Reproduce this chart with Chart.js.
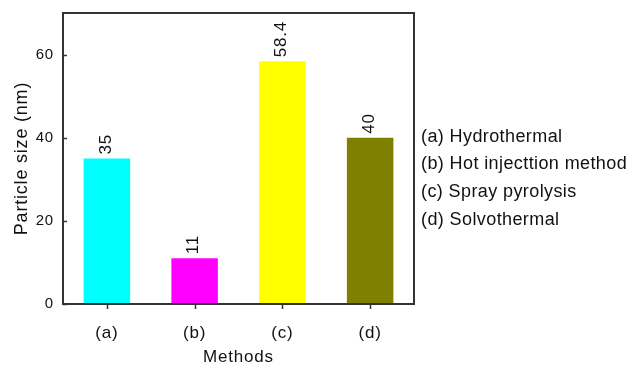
<!DOCTYPE html>
<html>
<head>
<meta charset="utf-8">
<script src="https://cdn.jsdelivr.net/npm/chart.js@4.4.1/dist/chart.umd.min.js"></script>
<style>
  html, body { margin: 0; padding: 0; background: #fff; }
  #wrap { width: 633px; height: 365px; position: relative; }
</style>
</head>
<body>
<div id="wrap"><canvas id="chart" width="633" height="365"></canvas></div>
<script>
// Particle size obtained by each synthesis method
const categories = ['(a)', '(b)', '(c)', '(d)'];
const sizes = [35, 11, 58.4, 40];
const valueLabels = ['35', '11', '58.4', '40'];
const barColors = ['#00FFFF', '#FF00FF', '#FFFF00', '#808000'];
const methodNames = ['(a) Hydrothermal', '(b) Hot injecttion method', '(c) Spray pyrolysis', '(d) Solvothermal'];
const yTicks = [0, 20, 40, 60];

const FONT = '"Liberation Sans", Arial, sans-serif';
const INK = '#111';
const FRAME = '#333';

// Slightly open letter spacing for every text on the canvas
const spacing = {
  id: 'spacing',
  beforeDraw(chart) { chart.ctx.letterSpacing = '0.8px'; }
};

// Frame, tick marks, value labels and the method key
const decorations = {
  id: 'decorations',
  afterDatasetsDraw(chart) {
    const { ctx, chartArea: a, scales } = chart;
    ctx.save();
    // frame
    ctx.strokeStyle = FRAME;
    ctx.lineWidth = 2;
    ctx.strokeRect(a.left, a.top, a.right - a.left, a.bottom - a.top);
    // y ticks (inward)
    ctx.lineWidth = 1.5;
    yTicks.forEach(v => {
      const y = Math.round(scales.y.getPixelForValue(v)) + 0.5;
      ctx.beginPath();
      ctx.moveTo(a.left, y);
      ctx.lineTo(a.left + 4, y);
      ctx.stroke();
    });
    // x ticks (outward)
    categories.forEach((c, i) => {
      const x = Math.round(scales.x.getPixelForValue(i)) + 0.5;
      ctx.beginPath();
      ctx.moveTo(x, a.bottom);
      ctx.lineTo(x, a.bottom + 5);
      ctx.stroke();
    });
    // value labels, rotated, above each bar
    const meta = chart.getDatasetMeta(0);
    ctx.fillStyle = INK;
    ctx.letterSpacing = '0.8px';
    ctx.font = '17px ' + FONT;
    ctx.textAlign = 'left';
    ctx.textBaseline = 'middle';
    meta.data.forEach((bar, i) => {
      ctx.save();
      ctx.translate(bar.x - 1, bar.y - 4);
      ctx.rotate(-Math.PI / 2);
      ctx.fillText(valueLabels[i], 0, 0);
      ctx.restore();
    });
    // method key on the right
    ctx.letterSpacing = '0.4px';
    ctx.font = '18px ' + FONT;
    ctx.textBaseline = 'middle';
    const keyX = a.right + 7;
    const keyY = [137, 164, 192, 220];
    methodNames.forEach((t, i) => ctx.fillText(t, keyX, keyY[i]));
    ctx.restore();
  }
};

new Chart(document.getElementById('chart'), {
  type: 'bar',
  data: {
    labels: categories,
    datasets: [{
      data: sizes,
      backgroundColor: barColors,
      borderWidth: 0,
      barPercentage: 0.53,
      categoryPercentage: 1
    }]
  },
  options: {
    responsive: false,
    animation: false,
    devicePixelRatio: 1,
    layout: { padding: { top: 13, right: 219, bottom: 0, left: 0 } },
    plugins: { legend: { display: false }, tooltip: { enabled: false } },
    scales: {
      x: {
        grid: { display: false },
        border: { display: false },
        ticks: { color: INK, font: { family: FONT, size: 17 }, padding: 11, maxRotation: 0 },
        title: { display: true, text: 'Methods', color: INK, font: { family: FONT, size: 17 }, padding: { top: 0, bottom: -3 } },
        afterFit(s) { s.height = 61; }
      },
      y: {
        min: 0,
        max: 70,
        grid: { display: false },
        border: { display: false },
        afterBuildTicks(s) { s.ticks = yTicks.map(v => ({ value: v })); },
        ticks: { color: INK, font: { family: FONT, size: 15 }, padding: 1 },
        title: { display: true, text: 'Particle size (nm)', color: INK, font: { family: FONT, size: 18 }, padding: { top: 11, bottom: 0 } },
        afterFit(s) { s.width = 63; }
      }
    }
  },
  plugins: [spacing, decorations]
});
</script>
</body>
</html>
